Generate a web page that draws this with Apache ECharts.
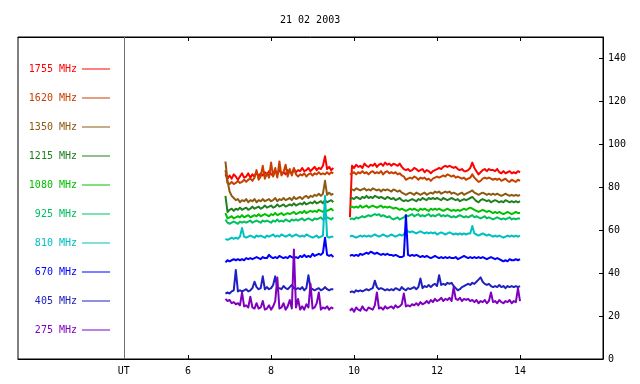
<!DOCTYPE html>
<html>
<head>
<meta charset="utf-8">
<script src="https://cdn.jsdelivr.net/npm/echarts@6/dist/echarts.min.js"></script>
<style>html,body{margin:0;padding:0;background:#fff;}#c{width:640px;height:384px;}</style>
</head>
<body>
<div id="c"></div>
<script>
const chartTitle = '21 02 2003';
const xTickValues = [6, 8, 10, 12, 14];
const utPosition = 4.45;
const yTickValues = [0, 20, 40, 60, 80, 100, 120, 140];
const seriesNames = ['1755 MHz','1620 MHz','1350 MHz','1215 MHz','1080 MHz','925 MHz','810 MHz','670 MHz','405 MHz','275 MHz'];
const seriesColors = ['#ff0000','#c84000','#8c5a10','#208020','#00c000','#00c060','#00c0c0','#0000ff','#2020c0','#8000c0'];

const times = [
6.90,6.95,7.00,7.05,7.10,7.15,7.20,7.25,7.30,7.35,
7.40,7.45,7.50,7.55,7.60,7.65,7.70,7.75,7.80,7.85,
7.90,7.95,8.00,8.05,8.10,8.15,8.20,8.25,8.30,8.35,
8.40,8.45,8.50,8.55,8.60,8.65,8.70,8.75,8.80,8.85,
8.90,8.95,9.00,9.05,9.10,9.15,9.20,9.25,9.30,9.35,
9.40,9.45,9.50,
9.70,
9.90,9.95,10.00,10.05,10.10,10.15,10.20,10.25,10.30,10.35,
10.40,10.45,10.50,10.55,10.60,10.65,10.70,10.75,10.80,10.85,
10.90,10.95,11.00,11.05,11.10,11.15,11.20,11.25,11.30,11.35,
11.40,11.45,11.50,11.55,11.60,11.65,11.70,11.75,11.80,11.85,
11.90,11.95,12.00,12.05,12.10,12.15,12.20,12.25,12.30,12.35,
12.40,12.45,12.50,12.55,12.60,12.65,12.70,12.75,12.80,12.85,
12.90,12.95,13.00,13.05,13.10,13.15,13.20,13.25,13.30,13.35,
13.40,13.45,13.50,13.55,13.60,13.65,13.70,13.75,13.80,13.85,
13.90,13.95,14.00
];

const f1755 = [
86,84,85.5,84,86,85,83.5,85,86.5,84.5,
85,86.5,84.5,86,85,87,85,86.5,85.5,87,
86,87.5,86,85.5,87.5,86,88,86.5,87,86,
88,87,86.5,88.5,87,88,87.5,89,87.5,88,
89,87.5,88.5,89.5,88,89,88.5,90,94.5,88.5,
89.5,88,89,
null,
66,90,89,90.5,89.5,90,89,91,90,89.5,
90.5,90,91,89.5,90.5,91,90,91.5,90.5,91,
90,91,90.5,90,91,89.5,88.5,88,88.5,87.5,
88,89,88.5,87.5,88,88.5,87,88,87.5,86.5,
87.5,88,88.5,89,88.5,89.5,90,89.5,90,89.5,
89,89.5,88.5,88,88.5,87.5,87.5,88,89,91.5,
89,87.5,86,87,88,88.5,87.5,88.5,88,88,
87.5,88.5,87,86.5,87.5,86.5,87,87.5,86.5,87,
86.5,87.5,87
];
const f1620 = [
88,82,81.5,82.5,81.5,82,83,82,82.5,83.5,
82.5,83.5,84,83,84.5,88,83.5,85,90,84,
86.5,84.5,91.5,85,89,84.5,92,85.5,87,90.5,
85,88.5,85.5,89,86,85,86,85.5,86.5,85,
86,86.5,85.5,86.5,86,87,86,86.5,86,87,
86,87,86.5,
null,
86,86.5,87,86,87,86.5,87.5,86.5,87,86,
87,87.5,86.5,87,86.5,87.5,86,87,87.5,86.5,
87,86.5,87,86,86.5,85.5,85,83.5,84,84.5,
84,85,84.5,83.5,84.5,84,84.5,83.5,84,83,
84,84.5,85,84.5,85,85.5,85,86,85.5,85,
85.5,84.5,85,84.5,84,84.5,83.5,84,84.5,86,
84.5,83.5,82.5,83,84,84.5,84,84.5,84,83.5,
84,83.5,84,83,83.5,84,83,82.5,83.5,83,
82.5,83.5,83
];
const f1350 = [
92,83,78,76,75,74,74.5,73,74,73.5,
74.5,73,74,73.5,74.5,73,74,73.5,74.5,73.5,
74,74.5,73.5,74,75,73.5,74.5,74,75,74,
74.5,75,74,75.5,74.5,75,75.5,74.5,75.5,76,
75,76,75.5,76.5,76,77,76,77,83,76.5,
77.5,76.5,77,
null,
79.5,79,78.5,79.5,79,78.5,79,79.5,78.5,79,
78.5,79.5,79,78.5,79,78,79,78.5,79,78.5,
78,79,78.5,78,78.5,77.5,77,76.5,77,77.5,
77,76.5,77.5,77,76.5,77,77.5,76.5,77,77.5,
77,78,77.5,78,77,77.5,78,77.5,78,77,
77.5,77,76.5,77,77.5,76.5,77,77.5,78,78.5,
77.5,77,76.5,77,77.5,77,76.5,77,76.5,77,
76.5,77,76.5,76,76.5,77,76.5,76,76.5,76,
76.5,76,76.5
];
const f1215 = [
76,68.5,69.5,70,69,70,69.5,70.5,69.5,70,
70.5,69.5,70,71,70,70.5,71,70,70.5,71.5,
70.5,71,71.5,70.5,71,72,71,71.5,72,71,
71.5,72,71.5,72.5,71.5,72,72.5,72,73,72,
72.5,73,72.5,73.5,72.5,73,73.5,72.5,74,73,
73.5,74,73,
null,
74.5,75,74.5,75.5,75,74.5,75.5,75,76,75,
75.5,75,76,75.5,75,75.5,75,74.5,75.5,75,
74.5,75,74,74.5,75,74,73.5,74,73.5,74,
74.5,74,73.5,74.5,74,75,74.5,74,75,74.5,
75,74.5,75,74.5,74,75,74.5,74,74.5,75,
74.5,74,74.5,73.5,74,74.5,74,74.5,75,75.5,
74.5,73.5,73,74,74.5,74,73.5,74,73,73.5,
74,73.5,73,73.5,73,74,73.5,73,73.5,73,
73.5,73,73.5
];
const f1080 = [
68,65.5,66,66.5,65.5,66,66.5,66,67,66,
66.5,67,66,66.5,67,66.5,67.5,66.5,67,67.5,
67,66.5,67.5,67,68,67,67.5,68,67,67.5,
68,67.5,68,68.5,67.5,68,68.5,68,69,68,
68.5,69,68.5,69,68.5,69.5,69,68.5,69.5,69,
69.5,70,69,
null,
70.5,71,70.5,71,70.5,71.5,70.5,71,71.5,70.5,
71,71.5,71,70.5,71,71.5,70.5,71,70.5,71,
70.5,70,70.5,70,69.5,70,69.5,69,69.5,70,
69.5,70,69.5,69,70,69.5,70,69.5,69,70,
69.5,70,69.5,70,69.5,69,69.5,70,69.5,69,
69.5,69,69.5,69,69.5,70,69.5,70,70.5,70,
69.5,69,68.5,69,69.5,69,68.5,69,68.5,68,
68.5,68,68.5,68,67.5,68,68.5,68,67.5,68,
68.5,68,68
];
const f925 = [
65,63.5,63,63.5,64,63.5,63,64,63.5,64,
63.5,64,64.5,63.5,64,64.5,64,63.5,64.5,64,
64.5,64,63.5,64.5,64,65,64,64.5,64,65,
64.5,64,65,64.5,65,64.5,65,65.5,64.5,65,
65.5,65,64.5,65.5,65,65.5,66,65,65.5,66,
65.5,65,66,
null,
65,65.5,65,66,65.5,66,66.5,66,66.5,67,
66.5,67,67.5,67,67.5,66.5,67,66.5,66,66.5,
65.5,65,65.5,66,65,65.5,66,67,66.5,67,
67.5,66.5,67,67.5,66.5,67,66.5,67,67.5,66.5,
67,66.5,67,67.5,66.5,67,66.5,67,66.5,66,
66.5,66,66.5,67,66.5,66,66.5,66,66.5,67,
66,66.5,66,65.5,66,66.5,65.5,66,65.5,65,
65.5,66,65.5,65,65.5,65,65.5,66,65,65.5,
65,65.5,65.5
];
const f810 = [
56,55.5,56,56.5,56,56.5,56,57,61,57,
56.5,57,57.5,57,56.5,57.5,57,57.5,57,56.5,
57.5,57,57.5,58,57,57.5,57,58,57.5,57,
57.5,58,57,57.5,58,57.5,57,57.5,57,58,
57.5,57,56.5,57,57.5,56.5,57,57.5,76,57,
56.5,57,57,
null,
57,57.5,57,56.5,57,57.5,57,57.5,57,57.5,
57,57.5,58,57.5,57,57.5,58,57.5,57,57.5,
58,57.5,57,57.5,58,57.5,58,60,59.5,59,
59.5,59,58.5,59,59.5,59,58.5,59,58.5,59,
58.5,59,58,58.5,59,58.5,58,58.5,59,58.5,
58,58.5,58,58.5,58,58.5,58,58.5,58.5,62,
58.5,58,57.5,58,58.5,58,57.5,58,57.5,57,
57.5,57,57.5,57,56.5,57,57.5,57,57.5,57,
57.5,57,57.5
];
const f670 = [
45,46,45.5,46,46.5,46,46.5,46,46.5,46,
47,46.5,47,46.5,47,47.5,47,46.5,47.5,47,
47,48.5,47.5,47,47.5,47,48,47.5,47,47.5,
47,48,47.5,47,47.5,47,48,47.5,48.5,47.5,
48,47.5,49,48,48.5,49,48.5,49.5,56.5,48.5,
48,48.5,47.5,
null,
48,48.5,48,48.5,48,49,48.5,49,49.5,49,
50,49.5,49,49.5,49,48.5,49,48.5,49,48.5,
48.5,48,48.5,48,47.5,47.5,48,67,48.5,48,
48.5,48,48.5,48,47.5,48,47.5,48,47.5,47,
47.5,48,47.5,47,47.5,47,47.5,47,47.5,47,
47,47.5,46.5,47,47.5,48,47.5,47,47.5,47,
47.5,47,47.5,47,47.5,47,46.5,47,47.5,47,
46.5,47,46.5,46,45.5,46,45.5,46.5,46,46,
46.5,46,46.5
];
const f405 = [
30.5,31,30.5,31.5,32,41.5,31.5,32,31.5,32,
32.5,31.5,32,33,36,33.5,32.5,33,38.5,32.5,
33.5,32.5,33,34.5,38.5,33,33,32.5,34,33,
32.5,33.5,34.5,33,32.5,33,32.5,33.5,32,33,
39,33,32.5,32,32.5,33,32,32.5,33.5,32.5,
32,32.5,32.5,
null,
31,31.5,31,32,31.5,32,31.5,32,32.5,32,
32.5,33,36.5,33.5,32.5,33,32.5,32,32.5,32,
32.5,32,33,32.5,32,33.5,32.5,32,33,32.5,
33,33.5,32.5,33.5,37.5,33,34,33.5,34.5,33.5,
34.5,35,34,39,34.5,35,34.5,35.5,35,35.5,
34,33,32,32.5,33.5,34,34.5,35,34.5,35.5,
35,36,37,38,36,35,34.5,35,34,33.5,
34,33.5,34.5,33.5,34,33,34,33.5,34,33.5,
34,33.5,34
];
const f275 = [
28,27,27.5,26,26.5,25.5,26,25,31,24.5,
25,24,29,24,23.5,26,23.5,24,27,23,
23.5,25,23,24.5,27,38,23.5,24,26,23,
24.5,27.5,23.5,51,24,28,23,24.5,23,25.5,
24,35,23.5,24,26,31,23,24,23.5,24.5,
23,24,23.5,
null,
22.5,23.5,22,24,23,22.5,24.5,23,22.5,24,
23.5,23,25,31,23.5,24,23,24.5,23.5,24,
24.5,23.5,25,24,24.5,25.5,30.5,24.5,25,24.5,
25.5,25,26,25,26.5,25.5,26,27,26,27.5,
26.5,28,27,27.5,28.5,27,28,27.5,28.5,27,
33.5,28,27.5,28.5,27,28,27.5,28,27,27.5,
26.5,27.5,26,27,26.5,27.5,26,27,31,26.5,
27,26,27.5,26.5,26,27,26.5,27.5,26,27,
26.5,33,27
];
const seriesValues = [f1755, f1620, f1350, f1215, f1080, f925, f810, f670, f405, f275];

const FONT = 'DejaVu Sans Mono';
const chart = echarts.init(document.getElementById('c'), null, {renderer: 'canvas'});

const series = seriesNames.map((name, k) => ({
  name: name,
  type: 'line',
  xAxisIndex: 0,
  yAxisIndex: 0,
  showSymbol: false,
  symbol: 'none',
  connectNulls: false,
  color: seriesColors[k],
  lineStyle: {width: 2, color: seriesColors[k], join: 'round'},
  data: times.map((t, i) => [t, seriesValues[k][i] === null ? '-' : seriesValues[k][i]]),
  markLine: k === 0 ? {
    silent: true, symbol: 'none', animation: false,
    label: {show: false},
    lineStyle: {color: '#707070', width: 1, type: 'solid'},
    data: [{xAxis: utPosition}]
  } : undefined,
  z: 2
}));

chart.setOption({
  animation: false,
  backgroundColor: '#fff',
  title: {
    text: chartTitle, left: 275, top: 10,
    textStyle: {fontFamily: FONT, fontSize: 10, fontWeight: 'normal', color: '#000'}
  },
  legend: {
    orient: 'vertical', align: 'right', right: 530, top: 63, padding: 0,
    itemWidth: 28, itemHeight: 1, itemGap: 17, icon: 'rect', selectedMode: false,
    data: seriesNames.map((n, k) => ({name: n, textStyle: {color: seriesColors[k]}, itemStyle: {color: seriesColors[k]}})),
    textStyle: {fontFamily: FONT, fontSize: 10, lineHeight: 12}
  },
  grid: {left: 18, right: 37, top: 37, bottom: 25, show: true, borderColor: '#000', borderWidth: 1, backgroundColor: 'transparent'},
  xAxis: [{
    type: 'value', min: 1.9, max: 16, position: 'bottom',
    axisLine: {show: true, lineStyle: {color: '#000', width: 1}},
    axisTick: {show: true, inside: true, length: 4, lineStyle: {color: '#000'}, customValues: xTickValues},
    axisLabel: {show: true, margin: 7, color: '#000', fontFamily: FONT, fontSize: 10,
      customValues: [utPosition].concat(xTickValues),
      formatter: v => (Math.abs(v - utPosition) < 1e-6 ? 'UT' : String(v))},
    splitLine: {show: false}
  }, {
    type: 'value', min: 1.9, max: 16, position: 'top',
    axisLine: {show: true, lineStyle: {color: '#000', width: 1}},
    axisTick: {show: true, inside: true, length: 4, lineStyle: {color: '#000'}, customValues: xTickValues},
    axisLabel: {show: false},
    splitLine: {show: false}
  }],
  yAxis: [{
    type: 'value', min: 0, max: 150, position: 'right',
    axisLine: {show: true, lineStyle: {color: '#000', width: 1}},
    axisTick: {show: true, inside: true, length: 4, lineStyle: {color: '#000'}, customValues: yTickValues},
    axisLabel: {show: true, margin: 5, color: '#000', fontFamily: FONT, fontSize: 10, customValues: yTickValues},
    splitLine: {show: false}
  }],
  series: series
});
</script>
</body>
</html>
